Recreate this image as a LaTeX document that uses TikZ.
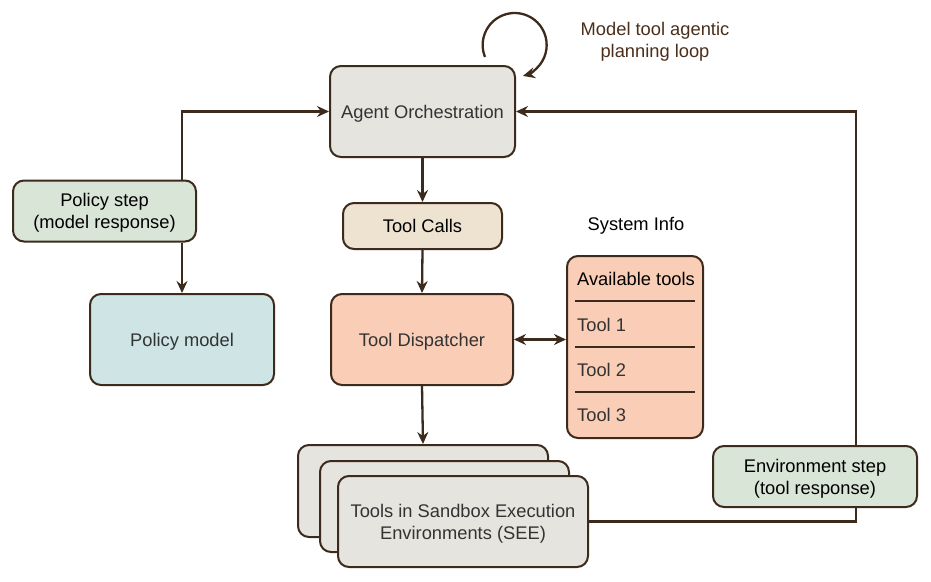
\documentclass[tikz,border=0pt]{standalone}
\usepackage{fontspec}
\setmainfont{Liberation Sans}
\usetikzlibrary{arrows.meta}
\definecolor{ln}{HTML}{3C2A1C}
\definecolor{grayf}{HTML}{E6E4DF}
\definecolor{greenf}{HTML}{D9E5D6}
\definecolor{bluef}{HTML}{CFE5E5}
\definecolor{tanf}{HTML}{EEE2D1}
\definecolor{salf}{HTML}{F9CDB6}
\definecolor{txt}{HTML}{333333}
\definecolor{brn}{HTML}{4B2E1A}
\tikzset{
  box/.style={draw=ln, line width=2pt, rounded corners=11pt, inner sep=0pt, align=center, text depth=0pt, font=\fontsize{18.3}{22}\selectfont},
  conn/.style={draw=ln, line width=2.3pt, -{Stealth[length=12pt,width=11pt,inset=4pt]}},
  dconn/.style={draw=ln, line width=2.3pt, {Stealth[length=12pt,width=11pt,inset=4pt]}-{Stealth[length=12pt,width=11pt,inset=4pt]}},
  plain/.style={draw=ln, line width=2.3pt},
  sep/.style={draw=ln, line width=2pt},
  lbl/.style={font=\fontsize{18.3}{22}\selectfont, inner sep=0pt, align=center}
}
\begin{document}
\begin{tikzpicture}[x=1pt,y=-1pt]
\useasboundingbox (0,0) rectangle (931,581);
% nodes
\node[box, fill=grayf, text=txt, minimum width=185pt, minimum height=91pt] (agent) at (422.5,111.5) {Agent Orchestration};
\node[box, fill=greenf, minimum width=183pt, minimum height=61pt] (pstep) at (104.5,211) {Policy step\\(model response)};
\node[box, fill=bluef, text=txt, minimum width=184pt, minimum height=91pt] (pmodel) at (182,339.5) {Policy model};
\node[box, fill=tanf, minimum width=159pt, minimum height=46pt] (calls) at (422.5,226) {Tool Calls};
\node[box, fill=salf, text=txt, minimum width=182pt, minimum height=91pt] (disp) at (422,339.5) {Tool Dispatcher};
\node[lbl] (sysinfo) at (636,226) {System Info};
\node[box, fill=salf, minimum width=136pt, minimum height=182pt] (tools) at (635,347) {};
\node[lbl, anchor=west] (avail) at (577,279) {Available tools};
\node[lbl, anchor=west, text=txt] (t1) at (577,325) {Tool 1};
\node[lbl, anchor=west, text=txt] (t2) at (577,370) {Tool 2};
\node[lbl, anchor=west, text=txt] (t3) at (577,415) {Tool 3};
\draw[sep] (575,301) -- (695,301);
\draw[sep] (575,347) -- (695,347);
\draw[sep] (575,392) -- (695,392);
\node[box, fill=grayf, minimum width=250pt, minimum height=92pt] (see3) at (423,491) {};
\node[box, fill=grayf, minimum width=249pt, minimum height=91pt] (see2) at (444.5,506.5) {};
\node[box, fill=grayf, text=txt, minimum width=250pt, minimum height=91pt] (see1) at (463,521.5) {Tools in Sandbox Execution\\Environments (SEE)};
\node[box, fill=greenf, minimum width=204pt, minimum height=61pt] (estep) at (815,476.5) {Environment step\\(tool response)};
\node[lbl, text=brn] (looplbl) at (655,42) {Model tool agentic\\planning loop};
\coordinate (vx) at (856,0);
\coordinate (loopstart) at (485,57);
% connectors
\draw[conn] (agent.south) -- (calls.north);
\draw[conn] (calls.south) -- (disp.north);
\draw[conn] (disp.south) -- (see3.north);
\draw[dconn] (disp.east) -- (disp.east -| tools.west);
\draw[conn] (pstep.north -| pmodel.north) |- (agent.west);
\draw[conn] (pstep.south -| pmodel.north) -- (pmodel.north);
\draw[plain] (see1.east) -| (vx |- estep.south);
\draw[conn] (vx |- estep.north) |- (agent.east);
\draw[conn] (loopstart) arc[start angle=158, end angle=435, radius=32];
\end{tikzpicture}
\end{document}
